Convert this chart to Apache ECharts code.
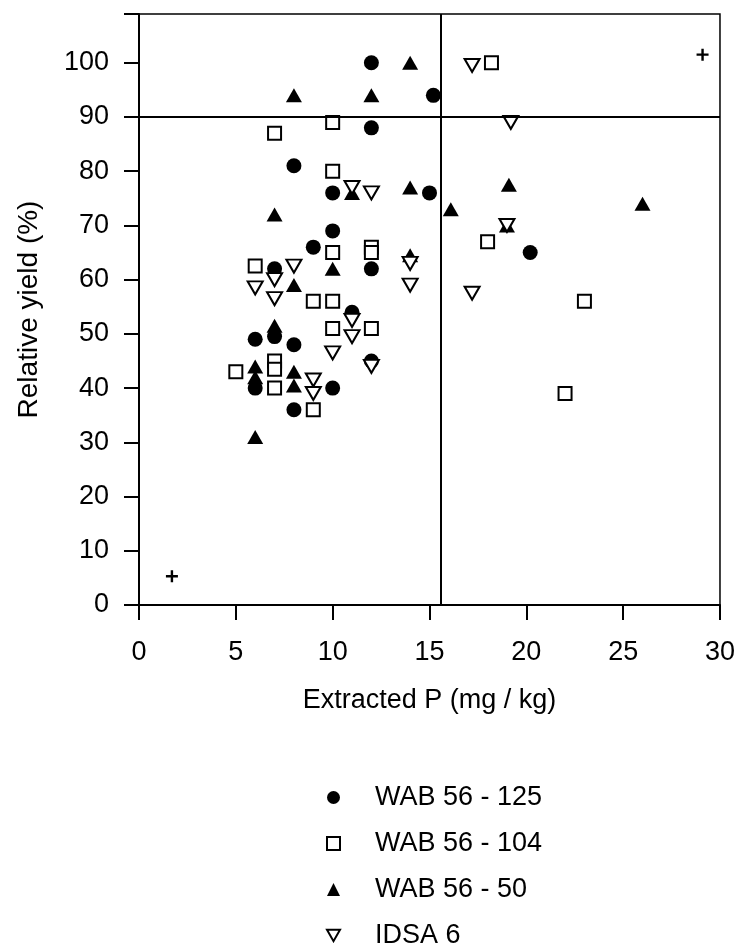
<!DOCTYPE html>
<html>
<head>
<meta charset="utf-8">
<script src="https://cdn.jsdelivr.net/npm/echarts@6/dist/echarts.min.js"></script>
<style>html,body{margin:0;padding:0;background:#fff}#c{width:738px;height:943px}</style>
</head>
<body>
<div id="c"></div>
<script>
// Series data: [Extracted P (mg/kg), Relative yield (%)]
var wab125 = [[12,100],[15.2,94],[12,88],[8,81],[10,76],[15,76],[10,69],[9,66],[7,62],[12,62],[11,54],[6,49],[7,49.5],[8,48],[12,45],[6,40],[10,40],[8,36],[20.2,65]];
var wab104 = [[10,89],[7,87],[10,80],[10,65],[12,66],[12,65],[6,62.5],[9,56],[10,56],[10,51],[12,51],[5,43],[7,45],[7,43.5],[7,40],[9,36],[18.2,100],[18,67],[23,56],[22,39]];
var wab50 = [[14,100],[8,94],[12,94],[14,77],[11,76],[7,72],[16.1,73],[19.1,77.5],[26,74],[19,70],[10,62],[14,64.5],[8,59],[7,51.5],[6,44],[6,42],[8,43],[8,40.5],[6,31]];
var idsa6 = [[17.2,99.5],[19.2,89],[11,77],[12,76],[19,70],[8,62.5],[6,58.5],[7,60],[7,56.5],[14,63],[14,59],[11,52.5],[11,49.5],[10,46.5],[12,44],[9,41.5],[9,39],[17.2,57.5]];
var crosses = [[1.7,5.3],[29.1,101.5]];
var seriesNames = ['WAB 56 - 125','WAB 56 - 104','WAB 56 - 50','IDSA 6'];
var xTicks = {min:0, max:30, interval:5};
var yTicks = {min:0, max:109, interval:10};
var refY = 90, refX = 15.6;

var FONT = 'Liberation Sans, Arial, sans-serif';
var chart = echarts.init(document.getElementById('c'), null, {renderer:'canvas'});
var triDown = 'path://M0,0 L10,0 L5,8.66 Z';
var plus = 'path://M4,0 L6,0 L6,4 L10,4 L10,6 L6,6 L6,10 L4,10 L4,6 L0,6 L0,4 L4,4 Z';
chart.setOption({
  animation:false,
  backgroundColor:'#fff',
  grid:{left:139, right:15, top:14, bottom:338, show:true, borderColor:'#000', borderWidth:1.5, backgroundColor:'transparent'},
  legend:{
    orient:'vertical', left:321, top:779, height:180, itemGap:19, itemWidth:13, itemHeight:13,
    data:[
      {name:seriesNames[0], icon:'circle'},
      {name:seriesNames[1], icon:'rect'},
      {name:seriesNames[2], icon:'triangle'},
      {name:seriesNames[3], icon:triDown}
    ],
    textStyle:{fontFamily:FONT, fontSize:27, color:'#000', padding:[0,0,0,30]}
  },
  xAxis:{
    type:'value', min:xTicks.min, max:xTicks.max, interval:xTicks.interval,
    name:'Extracted P (mg / kg)', nameLocation:'middle', nameGap:82,
    nameTextStyle:{fontFamily:FONT, fontSize:27, color:'#000'},
    axisLine:{show:true, lineStyle:{color:'#000', width:2}},
    axisTick:{show:true, length:15, lineStyle:{color:'#000', width:2}},
    axisLabel:{fontFamily:FONT, fontSize:27, color:'#000', margin:34},
    splitLine:{show:false}
  },
  yAxis:{
    type:'value', min:yTicks.min, max:yTicks.max, interval:yTicks.interval,
    name:'Relative yield (%)', nameLocation:'middle', nameGap:96,
    nameTextStyle:{fontFamily:FONT, fontSize:28, color:'#000'},
    axisLine:{show:true, lineStyle:{color:'#000', width:2}},
    axisTick:{show:true, length:15, lineStyle:{color:'#000', width:2}},
    axisLabel:{fontFamily:FONT, fontSize:27, color:'#000', margin:30,
      formatter:function(v){return v>100?'':String(v);}},
    splitLine:{show:false}
  },
  series:[
    {name:seriesNames[0], type:'scatter', data:wab125, symbol:'circle', symbolSize:15,
     itemStyle:{color:'#000', opacity:1},
     markLine:{silent:true, symbol:'none', label:{show:false}, animation:false,
       lineStyle:{color:'#000', width:2, type:'solid', opacity:1},
       data:[{yAxis:refY},{xAxis:refX}]}},
    {name:seriesNames[1], type:'scatter', data:wab104, symbol:'rect', symbolSize:13,
     itemStyle:{color:'#fff', borderColor:'#000', borderWidth:2, opacity:1}},
    {name:seriesNames[2], type:'scatter', data:wab50, symbol:'triangle', symbolSize:[16,14],
     itemStyle:{color:'#000', opacity:1}},
    {name:seriesNames[3], type:'scatter', data:idsa6, symbol:triDown, symbolSize:[15,13],
     itemStyle:{color:'#fff', borderColor:'#000', borderWidth:2, opacity:1}},
    {name:'ref', type:'scatter', data:crosses, symbol:plus, symbolSize:12,
     itemStyle:{color:'#000', opacity:1}}
  ]
});
</script>
</body>
</html>
